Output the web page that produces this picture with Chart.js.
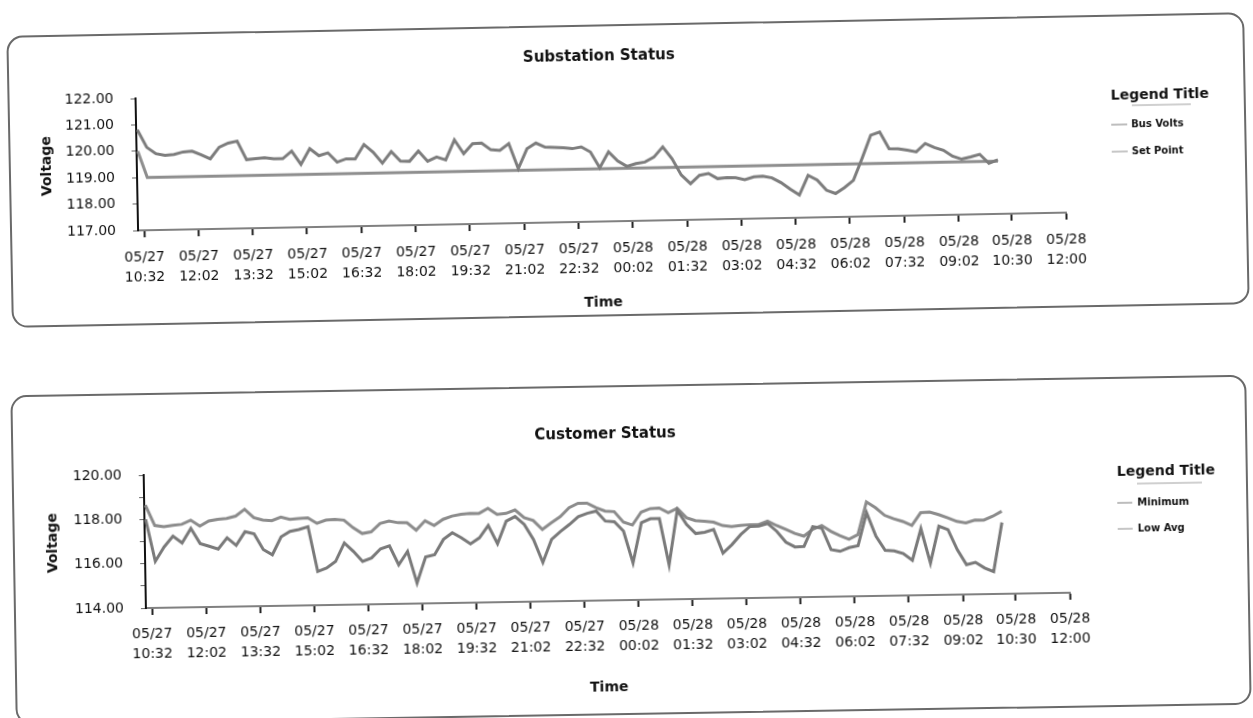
<!DOCTYPE html>
<html>
<head>
<meta charset="utf-8">
<title>Substation Status / Customer Status</title>
<script src="https://cdn.jsdelivr.net/npm/chart.js@4.4.1/dist/chart.umd.min.js"></script>
<style>
  html, body { margin: 0; padding: 0; background: #fff; }
  body { width: 1253px; height: 718px; position: relative; overflow: hidden; }
  .panel { position: absolute; box-sizing: border-box; border: 2px solid #6a6a6a; border-radius: 16px; background: #fff; }
  .panel canvas { position: absolute; left: 0; top: 0; }
  #topPanel { left: 9px; top: 24px; width: 1238px; height: 292px; transform: rotate(-1.1deg); }
  #bottomPanel { left: 13px; top: 385px; width: 1236px; height: 330px; transform: rotate(-0.95deg); }
</style>
</head>
<body>
<div class="panel" id="topPanel"><canvas id="substationChart" width="1234" height="288"></canvas></div>
<div class="panel" id="bottomPanel"><canvas id="customerChart" width="1232" height="326"></canvas></div>
<script>
// x axis: minutes after 05/27 10:32, one tick every label
const tickLabels = [
  '05/27 10:32', '05/27 12:02', '05/27 13:32', '05/27 15:02', '05/27 16:32', '05/27 18:02',
  '05/27 19:32', '05/27 21:02', '05/27 22:32', '05/28 00:02', '05/28 01:32', '05/28 03:02',
  '05/28 04:32', '05/28 06:02', '05/28 07:32', '05/28 09:02', '05/28 10:30', '05/28 12:00'
];
const tickMinutes = [0, 90, 180, 270, 360, 450, 540, 630, 720, 810, 900, 990, 1080, 1170, 1260, 1350, 1438, 1528];

// readings, one every 15 minutes from 10:24
const sampleStart = -8;
const sampleStep = 15;

const busVolts = [
  120.81, 120.14, 119.89, 119.82, 119.85, 119.94, 119.96, 119.82, 119.66, 120.09, 120.24, 120.31,
  119.60, 119.63, 119.66, 119.61, 119.61, 119.89, 119.38, 119.97, 119.70, 119.80, 119.44, 119.56,
  119.55, 120.09, 119.79, 119.37, 119.80, 119.43, 119.42, 119.80, 119.41, 119.56, 119.45, 120.20,
  119.67, 120.04, 120.06, 119.80, 119.77, 120.02, 119.06, 119.81, 120.02, 119.86, 119.84, 119.82,
  119.78, 119.84, 119.64, 119.04, 119.63, 119.28, 119.07, 119.17, 119.22, 119.40, 119.78, 119.33,
  118.70, 118.37, 118.68, 118.74, 118.54, 118.57, 118.56, 118.48, 118.58, 118.60, 118.53, 118.34,
  118.09, 117.86, 118.60, 118.41, 118.02, 117.89, 118.11, 118.38, 119.20, 120.07, 120.19, 119.55,
  119.54, 119.48, 119.41, 119.72, 119.56, 119.45, 119.22, 119.10, 119.18, 119.27, 118.92, 119.05
];
const setPoint = [
  120.00, 119.00, 119.00, 119.00, 119.00, 119.00, 119.00, 119.00, 119.00, 119.00, 119.00, 119.00,
  119.00, 119.00, 119.00, 119.00, 119.00, 119.00, 119.00, 119.00, 119.00, 119.00, 119.00, 119.00,
  119.00, 119.00, 119.00, 119.00, 119.00, 119.00, 119.00, 119.00, 119.00, 119.00, 119.00, 119.00,
  119.00, 119.00, 119.00, 119.00, 119.00, 119.00, 119.00, 119.00, 119.00, 119.00, 119.00, 119.00,
  119.00, 119.00, 119.00, 119.00, 119.00, 119.00, 119.00, 119.00, 119.00, 119.00, 119.00, 119.00,
  119.00, 119.00, 119.00, 119.00, 119.00, 119.00, 119.00, 119.00, 119.00, 119.00, 119.00, 119.00,
  119.00, 119.00, 119.00, 119.00, 119.00, 119.00, 119.00, 119.00, 119.00, 119.00, 119.00, 119.00,
  119.00, 119.00, 119.00, 119.00, 119.00, 119.00, 119.00, 119.00, 119.00, 119.00, 119.00, 119.00
];
const minimumVolts = [
  118.00, 116.10, 116.74, 117.22, 116.91, 117.56, 116.87, 116.74, 116.61, 117.11, 116.76, 117.37,
  117.27, 116.55, 116.31, 117.11, 117.35, 117.43, 117.55, 115.52, 115.67, 115.96, 116.79, 116.40,
  115.94, 116.09, 116.49, 116.62, 115.76, 116.36, 114.92, 116.10, 116.19, 116.87, 117.17, 116.93,
  116.65, 116.92, 117.47, 116.64, 117.65, 117.85, 117.49, 116.80, 115.76, 116.79, 117.14, 117.45,
  117.80, 117.94, 118.04, 117.58, 117.54, 117.11, 115.67, 117.48, 117.65, 117.65, 115.56, 118.02,
  117.37, 116.95, 117.00, 117.12, 116.05, 116.42, 116.87, 117.22, 117.24, 117.35, 116.99, 116.49,
  116.27, 116.29, 117.17, 117.10, 116.12, 116.04, 116.20, 116.28, 117.76, 116.69, 116.05, 116.02,
  115.89, 115.58, 117.00, 115.44, 117.10, 116.94, 116.03, 115.34, 115.44, 115.18, 115.01, 117.22
];
const lowAvgVolts = [
  118.64, 117.72, 117.65, 117.71, 117.75, 117.93, 117.65, 117.88, 117.95, 117.98, 118.08, 118.38,
  118.00, 117.88, 117.85, 118.00, 117.89, 117.93, 117.95, 117.69, 117.83, 117.86, 117.82, 117.47,
  117.20, 117.27, 117.64, 117.74, 117.66, 117.65, 117.31, 117.73, 117.51, 117.78, 117.92, 117.99,
  118.03, 118.02, 118.24, 117.96, 118.00, 118.15, 117.79, 117.66, 117.25, 117.54, 117.81, 118.21,
  118.40, 118.40, 118.19, 118.03, 118.00, 117.52, 117.38, 117.96, 118.11, 118.13, 117.91, 118.10,
  117.67, 117.53, 117.50, 117.45, 117.29, 117.24, 117.28, 117.31, 117.31, 117.46, 117.25, 117.07,
  116.88, 116.75, 117.05, 117.22, 116.95, 116.75, 116.58, 116.78, 118.25, 117.98, 117.63, 117.47,
  117.34, 117.15, 117.72, 117.74, 117.62, 117.47, 117.30, 117.23, 117.35, 117.34, 117.51, 117.73
];

const FONT = '"DejaVu Sans", Verdana, sans-serif';
const INK = '#111';
Chart.defaults.font.family = FONT;
Chart.defaults.color = INK;

const toPoints = values => values.map((v, i) => ({ x: sampleStart + i * sampleStep, y: v }));

// "Legend Title" block to the right of the plot
const legendBlock = {
  id: 'legendBlock',
  afterDraw(chart, args, opts) {
    const ctx = chart.ctx;
    const left = chart.chartArea.right + opts.offsetX;
    ctx.save();
    ctx.fillStyle = INK;
    ctx.textAlign = 'left';
    ctx.textBaseline = 'middle';
    ctx.font = 'bold 14px ' + FONT;
    ctx.fillText(opts.title, left, opts.titleY);

    ctx.strokeStyle = '#a0a0a0';
    ctx.lineWidth = 1;
    ctx.beginPath();
    ctx.moveTo(left + opts.ruleFrom, opts.ruleY);
    ctx.lineTo(left + opts.ruleTo, opts.ruleY);
    ctx.stroke();

    ctx.font = 'bold 10px ' + FONT;
    chart.data.datasets.forEach((ds, i) => {
      const y = opts.itemY + i * opts.itemGap;
      ctx.strokeStyle = ds.borderColor;
      ctx.beginPath();
      ctx.moveTo(left, y);
      ctx.lineTo(left + opts.sampleWidth, y);
      ctx.stroke();
      ctx.fillStyle = INK;
      ctx.fillText(ds.label, left + opts.textOffset, y);
    });
    ctx.restore();
  }
};

function timeAxis(height, tickPad, titlePad) {
  return {
    type: 'linear',
    min: -10,
    max: tickMinutes[tickMinutes.length - 1],
    afterBuildTicks: scale => { scale.ticks = tickMinutes.map(v => ({ value: v })); },
    afterFit: scale => { scale.height = height; },
    ticks: {
      autoSkip: false,
      maxRotation: 0,
      padding: tickPad,
      color: INK,
      font: { size: 14, lineHeight: 1.43 },
      callback: (value, index) => tickLabels[index].split(' ')
    },
    grid: { drawOnChartArea: false, tickLength: 7, tickColor: '#222', tickWidth: 2 },
    border: { color: '#808080', width: 2 },
    title: { display: true, text: 'Time', color: INK, font: { size: 14, weight: 'bold' }, padding: { top: 0, bottom: titlePad } }
  };
}

function voltAxis(min, max, width, titlePad, labelEvery) {
  return {
    min: min,
    max: max,
    afterFit: scale => { scale.width = width; },
    ticks: {
      stepSize: 1,
      autoSkip: false,
      padding: 17,
      color: INK,
      font: { size: 14 },
      callback: v => (v % labelEvery === 0 ? v.toFixed(2) : '')
    },
    grid: { drawOnChartArea: false, tickLength: 5, tickColor: '#666', tickWidth: 1 },
    border: { color: '#111', width: 2 },
    title: { display: true, text: 'Voltage', color: INK, font: { size: 14, weight: 'bold' }, padding: { top: titlePad, bottom: 0 } }
  };
}

function lineSet(label, values, color) {
  return { label: label, data: toPoints(values), borderColor: color, borderWidth: 3, pointRadius: 0, tension: 0, fill: false };
}

new Chart(document.getElementById('substationChart'), {
  type: 'line',
  data: {
    datasets: [
      lineSet('Bus Volts', busVolts, '#7d7d7d'),
      lineSet('Set Point', setPoint, '#8e8e8e')
    ]
  },
  options: {
    responsive: false,
    animation: false,
    layout: { padding: { left: 0, right: 180, top: 0, bottom: 0 } },
    scales: {
      x: timeAxis(93, 10.5, 3.6),
      y: voltAxis(117, 122, 126, 27.6, 1)
    },
    plugins: {
      legend: { display: false },
      tooltip: { enabled: false },
      title: {
        display: true, text: 'Substation Status', fullSize: false, color: INK,
        font: { size: 15, weight: 'bold', lineHeight: 1.2 }, padding: { top: 21.5, bottom: 23.5 }
      },
      legendBlock: { title: 'Legend Title', offsetX: 47, titleY: 79, ruleY: 89, ruleFrom: 21, ruleTo: 80, itemY: 108, itemGap: 27, sampleWidth: 16, textOffset: 20 }
    }
  },
  plugins: [legendBlock]
});

new Chart(document.getElementById('customerChart'), {
  type: 'line',
  data: {
    datasets: [
      lineSet('Minimum', minimumVolts, '#7a7a7a'),
      lineSet('Low Avg', lowAvgVolts, '#8c8c8c')
    ]
  },
  options: {
    responsive: false,
    animation: false,
    layout: { padding: { left: 0, right: 178, top: 0, bottom: 0 } },
    scales: {
      x: timeAxis(113, 9, 17),
      y: voltAxis(114, 120, 130, 29.6, 2)
    },
    plugins: {
      legend: { display: false },
      tooltip: { enabled: false },
      title: {
        display: true, text: 'Customer Status', fullSize: false, color: INK,
        font: { size: 15, weight: 'bold', lineHeight: 1.2 }, padding: { top: 38.6, bottom: 23.4 }
      },
      legendBlock: { title: 'Legend Title', offsetX: 49, titleY: 93, ruleY: 105, ruleFrom: 20, ruleTo: 85, itemY: 124, itemGap: 26, sampleWidth: 15, textOffset: 20 }
    }
  },
  plugins: [legendBlock]
});
</script>
</body>
</html>
